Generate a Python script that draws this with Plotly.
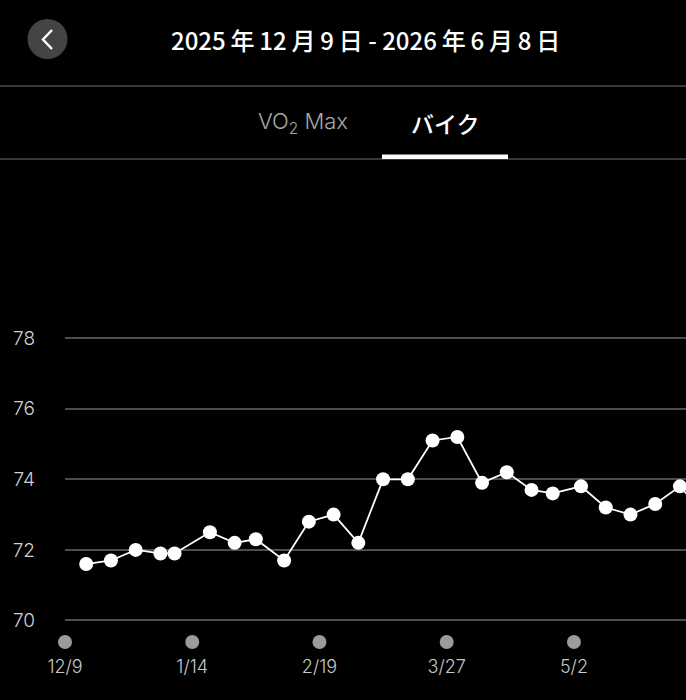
import plotly.graph_objects as go

# ---- data ----
dates = ["2025-12-15", "2025-12-22", "2025-12-29", "2026-01-05", "2026-01-09",
         "2026-01-19", "2026-01-26", "2026-02-01", "2026-02-09", "2026-02-16",
         "2026-02-23", "2026-03-02", "2026-03-09", "2026-03-16", "2026-03-23",
         "2026-03-30", "2026-04-06", "2026-04-13", "2026-04-20", "2026-04-26",
         "2026-05-04", "2026-05-11", "2026-05-18", "2026-05-25", "2026-06-01",
         "2026-06-08"]
values = [71.6, 71.7, 72.0, 71.9, 71.9,
          72.5, 72.2, 72.3, 71.7, 72.8,
          73.0, 72.2, 74.0, 74.0, 75.1,
          75.2, 73.9, 74.2, 73.7, 73.6,
          73.8, 73.2, 73.0, 73.3, 73.8,
          73.0]
tick_dates = ["2025-12-09", "2026-01-14", "2026-02-19", "2026-03-27", "2026-05-02"]
tick_labels = ["12/9", "1/14", "2/19", "3/27", "5/2"]
y_ticks = [70, 72, 74, 76, 78]
title_text = "2025\u2009年\u200912\u2009月\u20099\u2009日 - 2026\u2009年\u20096\u2009月\u20098\u2009日"
tab_left = "VO<sub>2</sub> Max"
tab_right = "バイク"

W, H = 686, 700
def px(x):
    return x / W
def py(y):
    return 1 - y / H

FONT = "Inter, Roboto, 'Noto Sans CJK JP', sans-serif"
CJK = "'Noto Sans CJK JP', Inter, sans-serif"

fig = go.Figure()

# tick dots under the axis
fig.add_trace(go.Scatter(
    x=tick_dates, y=[69.39] * len(tick_dates), mode="markers",
    marker=dict(size=14, color="#9b9b9b"), hoverinfo="skip", showlegend=False,
    cliponaxis=False))

# data line
fig.add_trace(go.Scatter(
    x=dates, y=values, mode="lines+markers",
    line=dict(color="white", width=1.8),
    marker=dict(size=14, color="white"),
    showlegend=False, cliponaxis=True))

shapes = [
    # back button
    dict(type="circle", xref="paper", yref="paper",
         x0=px(27.5), x1=px(67.5), y0=py(59), y1=py(19),
         fillcolor="#444444", line=dict(width=0), layer="above"),
    dict(type="path", xref="paper", yref="paper",
         path=f"M {px(52)} {py(30)} L {px(43)} {py(39.5)} L {px(52)} {py(49)}",
         line=dict(color="white", width=2.5), layer="above"),
    # separator lines
    dict(type="line", xref="paper", yref="paper", x0=0, x1=1, y0=py(86), y1=py(86),
         line=dict(color="#4a4a4a", width=1.5)),
    dict(type="line", xref="paper", yref="paper", x0=0, x1=1, y0=py(159), y1=py(159),
         line=dict(color="#4a4a4a", width=1.5)),
    # active tab underline
    dict(type="rect", xref="paper", yref="paper", x0=px(382), x1=px(508),
         y0=py(159), y1=py(154.5), fillcolor="white", line=dict(width=0)),
]

annotations = [
    dict(text=title_text, x=px(365), y=py(39), xref="paper", yref="paper",
         showarrow=False, xanchor="center", yanchor="middle",
         font=dict(family=CJK, size=24, color="white", weight=500)),
    dict(text=tab_left, x=px(303), y=py(123), xref="paper", yref="paper",
         showarrow=False, xanchor="center", yanchor="middle",
         font=dict(family=FONT, size=22, color="#a8a8a8", weight=300)),
    dict(text=tab_right, x=px(445), y=py(123), xref="paper", yref="paper",
         showarrow=False, xanchor="center", yanchor="middle",
         font=dict(family=CJK, size=23, color="white", weight=500)),
]

fig.update_layout(
    width=W, height=H,
    margin=dict(l=0, r=0, t=0, b=0),
    paper_bgcolor="black", plot_bgcolor="black",
    shapes=shapes, annotations=annotations,
    xaxis=dict(
        domain=[px(65), 1],
        type="date",
        range=["2025-12-09", "2026-06-02 17:00"],
        tickvals=tick_dates, ticktext=tick_labels,
        showgrid=False, zeroline=False, showline=False, ticks="",
        tickfont=dict(family=FONT, size=18, color="#c8c8c8", weight=300),
        ticklabelstandoff=4,
        automargin=False, fixedrange=True,
    ),
    yaxis=dict(
        domain=[1 - 650 / H, 1 - 330 / H],
        range=[69.164, 78.23],
        tickvals=y_ticks, ticktext=[str(v) for v in y_ticks],
        showgrid=True, gridcolor="#4d4d4d", gridwidth=1.5,
        zeroline=False, showline=False, ticks="",
        tickfont=dict(family=FONT, size=19, color="#d0d0d0", weight=300),
        ticklabelstandoff=29,
        automargin=False, fixedrange=True,
    ),
    hovermode=False,
)

fig.write_html("out.html", config={"displayModeBar": False},
               post_script="document.body.style.margin='0';document.body.style.background='black';")
